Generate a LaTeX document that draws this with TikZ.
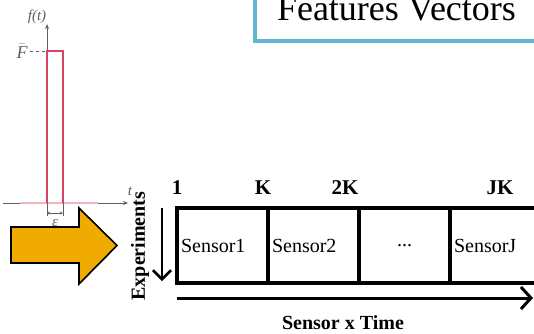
\documentclass[tikz,border=0pt]{standalone}
\usepackage{fontspec}
\setmainfont{Liberation Serif}
\usetikzlibrary{positioning,arrows.meta}

\definecolor{pulsered}{RGB}{214,70,100}
\definecolor{axisgray}{RGB}{95,95,95}
\definecolor{arroworange}{RGB}{240,170,0}
\definecolor{boxteal}{RGB}{96,182,206}

\tikzset{
  cell/.style={draw, line width=4.5pt, outer sep=0pt, inner xsep=4pt, inner ysep=0pt,
    minimum width=91pt, minimum height=75pt, text width=83pt, align=left,
    font=\fontsize{20}{20}\selectfont},
  idx/.style={font=\bfseries\fontsize{21}{21}\selectfont},
  featbox/.style={draw=boxteal, line width=3.5pt, outer sep=0pt, inner xsep=22pt, inner ysep=20pt,
    font=\fontsize{36}{40}\selectfont},
  plotlbl/.style={text=axisgray, font=\itshape\fontsize{15}{15}\selectfont, inner sep=1pt},
  bigarrow/.style={fill=arroworange, draw=black, line width=1.6pt, line join=miter},
}

\begin{document}
\begin{tikzpicture}[x=1pt,y=-1pt]
\useasboundingbox (0,0) rectangle (534,333);
\clip (0,0) rectangle (534,333);

% impulse plot
	\draw [axisgray, line width=0.8pt, -{Stealth[length=5pt,width=4pt]}] (3,203)--(128,203);
	\draw [axisgray, line width=0.8pt, -{Stealth[length=5pt,width=4pt]}] (47,203)--(47,24);
	\draw [pulsered!40, line width=1.5pt] (20,203)--(98,203);
	\draw [axisgray, dashed, line width=0.7pt] (30,51)--(47,51);
	\draw [pulsered, line width=1.5pt] (47,203)--(47,51)--(63,51)--(63,203);
	\draw [axisgray, line width=0.6pt] (47,203)--(47,216) (63,203)--(63,216);
	\draw [axisgray, line width=0.6pt, {Stealth[length=3pt,width=3pt]}-{Stealth[length=3pt,width=3pt]}] (47,213)--(63,213);

	\node (ft)  [plotlbl] at (37,17)  {f(t)};
	\node (fbar)[plotlbl, font=\itshape\fontsize{18}{18}\selectfont] at (22,51) {$\bar{\hbox{F}}$};
	\node (tl)  [plotlbl] at (130,191) {t};
	\node (eps) [plotlbl] at (55,223) {ε};

% big orange arrow
	\draw [bigarrow] (11,227)--(79,227)--(79,208)--(117,245.5)--(79,284)--(79,263)--(11,263)--cycle;

% title box
	\node (feat) [featbox, anchor=south west] at (255,41) {Features Vectors};

% sensor blocks
	\node (s1) [cell] at (222.5,245.5) {Sensor1};
	\node (s2) [cell, right=0pt of s1] {Sensor2};
	\node (s3) [cell, right=0pt of s2, align=center] {...};
	\node (sJ) [cell, right=0pt of s3] {SensorJ};

	\node (i1) [idx] at (177,188) {1};
	\node (iK) [idx] at (263,188) {K};
	\node (i2K)[idx] at (345,188) {2K};
	\node (iJK)[idx] at (500,188) {JK};

% axes of the block
	\coordinate (expTop) at (162,208);
	\coordinate (expBot) at (162,281);
	\draw [line width=2.5pt, -{Straight Barb[length=9pt,width=18pt]}] (expTop)--(expBot);
	\node (expl) [idx, font=\bfseries\fontsize{20}{20}\selectfont, rotate=90] at (140,246) {Experiments};

	\coordinate (timeL) at (177,298);
	\coordinate (timeR) at (533,298);
	\draw [line width=3pt, -{Straight Barb[length=10pt,width=22pt]}] (timeL)--(timeR);
	\node (timel) [idx, font=\bfseries\fontsize{20}{20}\selectfont] at (343,323) {Sensor x Time};
\end{tikzpicture}
\end{document}
